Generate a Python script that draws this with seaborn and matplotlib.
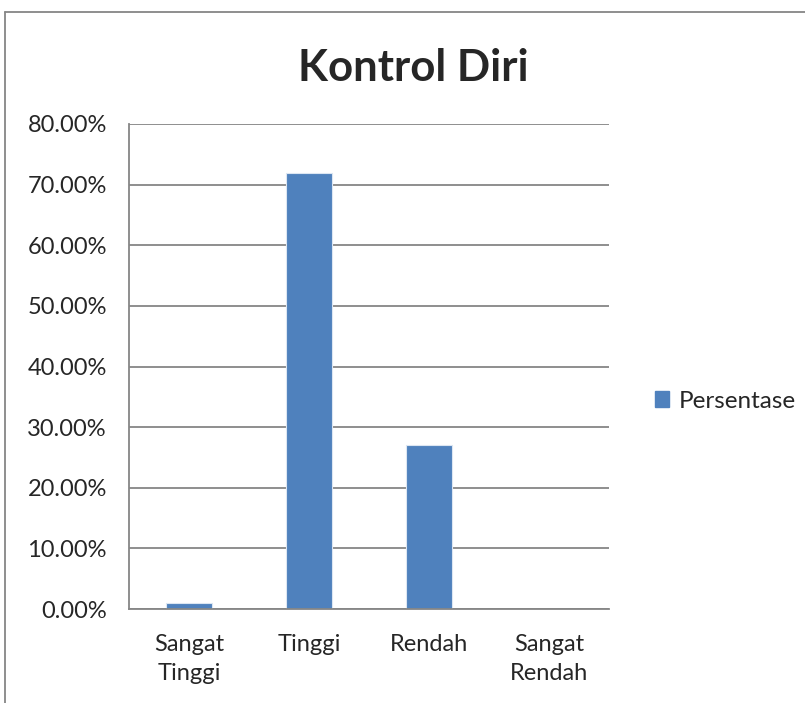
import pandas as pd
import seaborn as sns
import matplotlib.pyplot as plt
from matplotlib.lines import Line2D
from matplotlib.ticker import FuncFormatter, FixedLocator

# Data
categories = ["Sangat\nTinggi", "Tinggi", "Rendah", "Sangat\nRendah"]
persentase = [1.0, 72.0, 27.0, 0.0]
series_name = "Persentase"

df = pd.DataFrame({"Kategori": categories, "Nilai": persentase, "Seri": series_name})

sns.set_style("white")
plt.rcParams["font.family"] = ["Lato", "DejaVu Sans"]

bar_color = "#4F81BD"
grid_color = "#868686"

fig = plt.figure(figsize=(8.05, 7.03), dpi=100)
ax = fig.add_axes([129 / 805, 1 - 609 / 703, 480 / 805, 485 / 703])

sns.barplot(data=df, x="Kategori", y="Nilai", hue="Seri", palette=[bar_color],
            saturation=1, width=0.39, edgecolor="#DCE6F2", linewidth=0.8,
            ax=ax, legend=False)

ax.set_ylim(0, 80)
ax.set_xlim(-0.5, 3.5)
ax.set_yticks(range(0, 81, 10))
ax.yaxis.set_major_formatter(FuncFormatter(lambda v, p: f"{v:.2f}%"))
ax.grid(axis="y", color=grid_color, linewidth=1.3)
ax.set_axisbelow(True)
ax.set_xlabel("")
ax.set_ylabel("")

for s in ["top", "right"]:
    ax.spines[s].set_visible(False)
for s in ["left", "bottom"]:
    ax.spines[s].set_color(grid_color)
    ax.spines[s].set_linewidth(1.3)

ax.tick_params(axis="y", length=8, width=1.3, color=grid_color, pad=8, labelsize=17)
ax.tick_params(axis="x", which="major", length=0, pad=18, labelsize=17)
ax.xaxis.set_minor_locator(FixedLocator([-0.5, 0.5, 1.5, 2.5, 3.5]))
ax.tick_params(axis="x", which="minor", length=8, width=1.3, color=grid_color)
for lbl in ax.get_xticklabels():
    lbl.set_linespacing(1.45)

# title centred over the whole chart
fig.text(413 / 805, 1 - 68 / 703, "Kontrol Diri", fontsize=31.5, fontweight="bold",
         ha="center", va="center")

# legend
handle = plt.Rectangle((0, 0), 1, 1, color=bar_color)
fig.legend([handle], [series_name], loc="center left", bbox_to_anchor=(633 / 805, 1 - 401 / 703),
           frameon=False, fontsize=17.5, handlelength=0.6, handleheight=0.6, handletextpad=0.4)

# outer chart border
fig.add_artist(Line2D([5 / 805, 1], [1 - 12 / 703, 1 - 12 / 703], color=grid_color, linewidth=1.3))
fig.add_artist(Line2D([5 / 805, 5 / 805], [0, 1 - 12 / 703], color=grid_color, linewidth=1.3))

fig.savefig("out.png", dpi=100)
